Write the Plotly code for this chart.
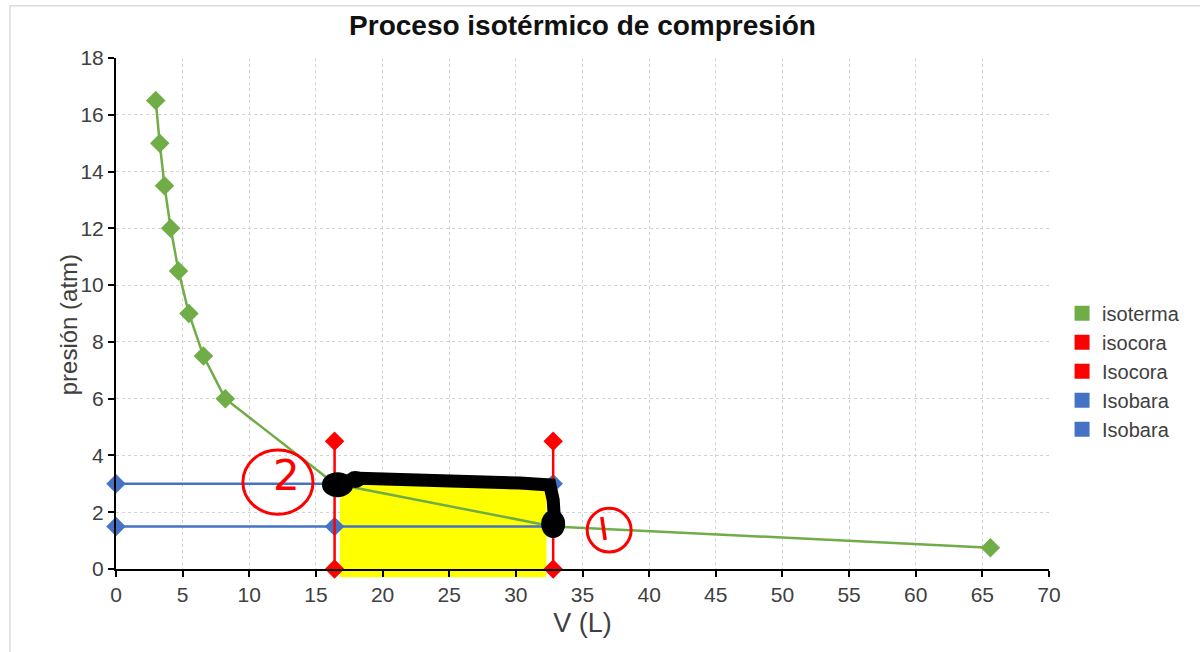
import plotly.graph_objects as go

# Data
iso_V = [2.98, 3.28, 3.64, 4.1, 4.69, 5.47, 6.56, 8.2, 16.4, 32.8, 65.6]
iso_P = [16.5, 15, 13.5, 12, 10.5, 9, 7.5, 6, 3, 1.5, 0.75]

isocora1_V = [16.4, 16.4]
isocora1_P = [0, 4.5]
isocora2_V = [32.8, 32.8]
isocora2_P = [0, 4.5]

isobara1_V = [0, 16.4, 32.8]
isobara1_P = [3, 3, 3]
isobara2_V = [0, 16.4, 32.8]
isobara2_P = [1.5, 1.5, 1.5]

legend_names = ["isoterma", "isocora", "Isocora", "Isobara", "Isobara"]

GREEN = "#70AD47"
RED = "#FF0000"
BLUE = "#4472C4"
legend_colors = [GREEN, RED, RED, BLUE, BLUE]

FONT = "Liberation Sans, Arial, sans-serif"
TXT = "#404040"

fig = go.Figure()

for vx, py in [(isobara1_V, isobara1_P), (isobara2_V, isobara2_P)]:
    fig.add_trace(go.Scatter(x=vx, y=py, mode="lines+markers",
                             line=dict(color=BLUE, width=2.5),
                             marker=dict(symbol="diamond", size=15, color=BLUE),
                             cliponaxis=False, showlegend=False))
fig.add_trace(go.Scatter(x=iso_V, y=iso_P, mode="lines+markers",
                         line=dict(color=GREEN, width=2.5),
                         marker=dict(symbol="diamond", size=15, color=GREEN),
                         showlegend=False))
for vx, py in [(isocora1_V, isocora1_P), (isocora2_V, isocora2_P)]:
    fig.add_trace(go.Scatter(x=vx, y=py, mode="lines+markers",
                             line=dict(color=RED, width=2.5),
                             marker=dict(symbol="diamond", size=15, color=RED),
                             cliponaxis=False, showlegend=False))

for name, col in zip(legend_names, legend_colors):
    fig.add_trace(go.Scatter(x=[None], y=[None], mode="markers", name=name,
                             marker=dict(symbol="square", size=15, color=col)))

shapes = []
# outer frame
shapes.append(dict(type="rect", xref="paper", yref="paper",
                   x0=-0.1136, x1=1.2, y0=-0.2, y1=1.1024,
                   line=dict(color="#dcdcdc", width=1.5), fillcolor="rgba(0,0,0,0)",
                   layer="below"))
# yellow highlight (inside plot) and its strip below the axis
shapes.append(dict(type="rect", xref="x", yref="y",
                   x0=16.8, x1=32.3, y0=0, y1=3.2,
                   line=dict(width=0), fillcolor="#FFFF00", layer="between"))
shapes.append(dict(type="rect", xref="x domain", yref="y domain",
                   x0=0.24, x1=0.461, y0=-0.016, y1=0.0,
                   line=dict(width=0), fillcolor="#FFFF00", layer="below"))
# black hand-drawn path
shapes.append(dict(type="path", xref="x", yref="y",
                   path="M16.8,3.03 L18.3,3.2 L25.1,3.1 L30.3,3.03 L32.55,2.96 L32.8,2.43 L32.9,1.72",
                   line=dict(color="black", width=13), layer="above"))
shapes.append(dict(type="circle", xref="x", yref="y",
                   x0=15.45, x1=17.8, y0=2.53, y1=3.41,
                   fillcolor="black", line=dict(width=0), layer="above"))
shapes.append(dict(type="circle", xref="x", yref="y",
                   x0=17.2, x1=18.7, y0=2.85, y1=3.45,
                   fillcolor="black", line=dict(width=0), layer="above"))
shapes.append(dict(type="circle", xref="x", yref="y",
                   x0=31.9, x1=33.7, y0=1.09, y1=2.08,
                   fillcolor="black", line=dict(width=0), layer="above"))
# red circle 2
shapes.append(dict(type="circle", xref="x", yref="y",
                   x0=9.52, x1=14.78, y0=1.93, y1=4.19,
                   line=dict(color=RED, width=3), layer="above"))
# red circle 1
shapes.append(dict(type="circle", xref="x", yref="y",
                   x0=35.35, x1=38.65, y0=0.6, y1=2.14,
                   line=dict(color=RED, width=3), layer="above"))
shapes.append(dict(type="line", xref="x", yref="y",
                   x0=36.45, y0=1.83, x1=36.7, y1=1.02,
                   line=dict(color=RED, width=3.5), layer="above"))

fig.update_layout(
    width=1200, height=652,
    margin=dict(l=116, r=151, t=58, b=83),
    paper_bgcolor="white", plot_bgcolor="rgba(0,0,0,0)",
    font=dict(family=FONT, color=TXT, size=20),
    title=dict(text="<b>Proceso isotérmico de compresión</b>",
               x=0.4854, xanchor="center", y=0.962, yanchor="middle",
               font=dict(family=FONT, size=28, color="#111111")),
    xaxis=dict(range=[0, 70], dtick=5, showline=True, linecolor="black", linewidth=2,
               ticks="outside", ticklen=6, tickcolor="black", tickwidth=1.5,
               showgrid=True, gridcolor="#d4d0dc", griddash="dot", gridwidth=1,
               zeroline=False, tickfont=dict(size=21),
               title=dict(text="V (L)", font=dict(size=27), standoff=8)),
    yaxis=dict(range=[0, 18], dtick=2, showline=True, linecolor="black", linewidth=2,
               ticks="outside", ticklen=6, tickcolor="black", tickwidth=1.5,
               showgrid=True, gridcolor="#d4d0dc", griddash="dot", gridwidth=1,
               zeroline=False, tickfont=dict(size=21)),
    legend=dict(x=1.014, xanchor="left", y=0.387, yanchor="middle",
                font=dict(size=20, color=TXT), itemsizing="trace",
                tracegroupgap=0),
    shapes=shapes,
    annotations=[
        dict(x=12.8, y=3.3, xref="x", yref="y", text="2", showarrow=False,
             font=dict(family="DejaVu Sans, sans-serif", size=42, color=RED)),
        dict(x=-0.0514, y=0.477, xref="paper", yref="paper", text="presión (atm)",
             textangle=-90, showarrow=False, xanchor="center", yanchor="middle",
             font=dict(family=FONT, size=24, color=TXT)),
    ],
)

fig.write_html("out.html", config={"displayModeBar": False},
               post_script="document.body.style.margin='0';")
